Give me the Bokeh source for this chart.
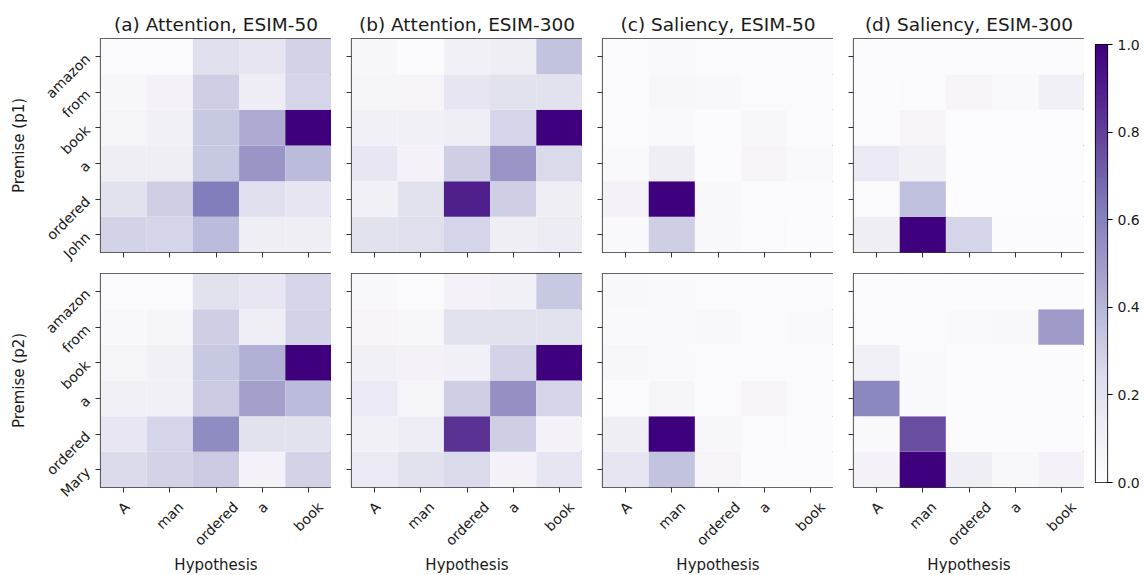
import numpy as np
from math import pi
from bokeh.plotting import figure
from bokeh.layouts import row, column
from bokeh.models import (Range1d, LinearColorMapper, ColumnDataSource, FixedTicker,
                          PrintfTickFormatter, LinearAxis, CustomLabelingPolicy)
from bokeh.transform import transform
from bokeh.palettes import Purples256
from bokeh.embed import file_html
from bokeh.resources import INLINE

# ---------------- data ----------------
hypothesis = ["A", "man", "ordered", "a", "book"]
premise_p1 = ["John", "ordered", "a", "book", "from", "amazon"]   # bottom -> top
premise_p2 = ["Mary", "ordered", "a", "book", "from", "amazon"]   # bottom -> top

titles = ["(a) Attention, ESIM-50", "(b) Attention, ESIM-300",
          "(c) Saliency, ESIM-50", "(d) Saliency, ESIM-300"]

# rows follow the premise order (bottom -> top), columns follow hypothesis
att50_p1 = [[0.28, 0.27, 0.38, 0.12, 0.12],
            [0.20, 0.30, 0.62, 0.22, 0.18],
            [0.12, 0.12, 0.33, 0.52, 0.38],
            [0.07, 0.10, 0.33, 0.44, 1.00],
            [0.05, 0.08, 0.30, 0.13, 0.27],
            [0.02, 0.02, 0.22, 0.18, 0.28]]
att300_p1 = [[0.20, 0.22, 0.27, 0.12, 0.14],
             [0.10, 0.20, 0.90, 0.30, 0.12],
             [0.17, 0.08, 0.30, 0.52, 0.25],
             [0.10, 0.10, 0.12, 0.27, 1.00],
             [0.07, 0.06, 0.18, 0.20, 0.20],
             [0.05, 0.01, 0.10, 0.12, 0.35]]
sal50_p1 = [[0.03, 0.30, 0.04, 0.02, 0.01],
            [0.08, 1.00, 0.04, 0.02, 0.02],
            [0.03, 0.12, 0.01, 0.06, 0.03],
            [0.02, 0.03, 0.01, 0.05, 0.02],
            [0.02, 0.05, 0.04, 0.02, 0.02],
            [0.02, 0.03, 0.02, 0.02, 0.02]]
sal300_p1 = [[0.12, 1.00, 0.27, 0.01, 0.01],
             [0.02, 0.36, 0.00, 0.00, 0.00],
             [0.15, 0.10, 0.00, 0.00, 0.00],
             [0.01, 0.06, 0.00, 0.00, 0.00],
             [0.01, 0.02, 0.06, 0.03, 0.10],
             [0.01, 0.01, 0.01, 0.01, 0.01]]
att50_p2 = [[0.25, 0.28, 0.32, 0.08, 0.28],
            [0.17, 0.27, 0.56, 0.20, 0.20],
            [0.10, 0.10, 0.32, 0.48, 0.38],
            [0.07, 0.10, 0.33, 0.42, 1.00],
            [0.04, 0.07, 0.30, 0.12, 0.28],
            [0.02, 0.02, 0.20, 0.17, 0.27]]
att300_p2 = [[0.15, 0.20, 0.25, 0.08, 0.18],
             [0.10, 0.13, 0.84, 0.30, 0.08],
             [0.15, 0.07, 0.30, 0.54, 0.27],
             [0.10, 0.08, 0.10, 0.28, 1.00],
             [0.06, 0.05, 0.20, 0.20, 0.20],
             [0.04, 0.01, 0.08, 0.10, 0.33]]
sal50_p2 = [[0.18, 0.35, 0.06, 0.01, 0.01],
            [0.12, 1.00, 0.05, 0.02, 0.01],
            [0.01, 0.07, 0.02, 0.06, 0.02],
            [0.05, 0.03, 0.02, 0.02, 0.02],
            [0.03, 0.03, 0.04, 0.02, 0.03],
            [0.04, 0.03, 0.02, 0.02, 0.02]]
sal300_p2 = [[0.08, 1.00, 0.12, 0.04, 0.08],
             [0.03, 0.76, 0.01, 0.01, 0.01],
             [0.58, 0.03, 0.01, 0.01, 0.01],
             [0.10, 0.03, 0.01, 0.01, 0.01],
             [0.02, 0.02, 0.03, 0.04, 0.50],
             [0.01, 0.01, 0.01, 0.01, 0.01]]

colorbar_ticks = [0.0, 0.2, 0.4, 0.6, 0.8, 1.0]

# ---------------- styling ----------------
FONT = "DejaVu Sans"
TXT = "#1a1a1a"
EDGE = "#333333"
TICK_PX = 14
palette = list(reversed(Purples256))
mapper = LinearColorMapper(palette=palette, low=0.0, high=1.0)

FW, FH = 231, 214
LEFT_B, TOP_B, GAP, BOT_B = 100, 38, 21, 88

# approximate DejaVu Sans advance widths (em) to centre rotated x labels like matplotlib
EM = {'A': 0.684, 'm': 0.974, 'a': 0.613, 'n': 0.634, 'o': 0.612, 'r': 0.411, 'd': 0.635,
      'e': 0.615, 'b': 0.635, 'k': 0.579, 'z': 0.525, 'f': 0.352, 'J': 0.295, 'h': 0.634,
      'M': 0.863, 'y': 0.592}


def text_px(s):
    return sum(EM.get(ch, 0.6) for ch in s) * TICK_PX


hide_all = CustomLabelingPolicy(code="""
for (let i = 0; i < indices.size; i++) { indices.unset(i) }
return indices
""")


def style_axis(ax):
    ax.axis_line_color = None
    ax.minor_tick_line_color = None
    ax.major_label_text_font = FONT
    ax.major_label_text_font_size = f"{TICK_PX}px"
    ax.major_label_text_color = TXT
    ax.axis_label_text_font = FONT
    ax.axis_label_text_font_size = "15px"
    ax.axis_label_text_font_style = "normal"
    ax.axis_label_text_color = TXT


def tick_only(ax, n):
    style_axis(ax)
    ax.ticker = FixedTicker(ticks=[i + 0.5 for i in range(n)])
    ax.major_tick_line_color = EDGE
    ax.major_tick_out = 5
    ax.major_tick_in = 0
    ax.major_label_text_font_size = "0px"
    ax.major_label_standoff = 0
    ax.major_label_policy = hide_all


def label_axis(ticks, labels, orient, standoff, title, title_standoff):
    ax = LinearAxis(ticker=FixedTicker(ticks=ticks),
                    major_label_overrides=dict(zip(ticks, labels)))
    style_axis(ax)
    ax.major_tick_line_color = None
    ax.major_tick_out = 0
    ax.major_tick_in = 0
    ax.major_label_orientation = orient
    ax.major_label_standoff = standoff
    ax.axis_label = title
    ax.axis_label_standoff = title_standoff
    return ax


def panel(mat, premise, title, row_i, col_i, ylabel):
    nx, ny = len(hypothesis), len(premise)
    p = figure(x_range=Range1d(0, nx), y_range=Range1d(0, ny),
               frame_width=FW, frame_height=FH, output_backend="svg", toolbar_location=None,
               min_border_left=LEFT_B if col_i == 0 else 20, min_border_right=0,
               min_border_top=TOP_B if row_i == 0 else 0,
               min_border_bottom=GAP if row_i == 0 else BOT_B,
               title=title if row_i == 0 else None)
    xs, ys, vs, hx, py = [], [], [], [], []
    for r, prem in enumerate(premise):
        for c, h in enumerate(hypothesis):
            xs.append(c + 0.5); ys.append(r + 0.5); vs.append(mat[r][c])
            hx.append(h); py.append(prem)
    src = ColumnDataSource(dict(x=xs, y=ys, v=vs, hyp=hx, prem=py))
    p.rect(x="x", y="y", width=1, height=1, source=src,
           fill_color=transform("v", mapper), line_color=None)
    p.grid.visible = False
    p.outline_line_color = EDGE
    p.outline_line_width = 1.2
    if row_i == 0:
        p.title.text_font = FONT
        p.title.text_font_size = "18.5px"
        p.title.text_font_style = "normal"
        p.title.text_color = TXT
        p.title.align = "center"
        p.title.standoff = 7
    tick_only(p.xaxis[0], nx)
    tick_only(p.yaxis[0], ny)

    # x labels (bottom row): rotated labels centred under their ticks, as in matplotlib
    if row_i == 1:
        unit = FW / nx
        xt = [round(i + 0.5 + text_px(h) * 0.3536 / unit, 4) for i, h in enumerate(hypothesis)]
        p.add_layout(label_axis(xt, hypothesis, pi / 4, 12, "Hypothesis", -1), "below")
    # y labels (first column): anchored at the word end, running down-left
    if col_i == 0:
        yt = [i + 0.5 for i in range(ny)]
        p.add_layout(label_axis(yt, premise, pi / 4, 8, ylabel, 6), "left")
    return p


top_mats = [att50_p1, att300_p1, sal50_p1, sal300_p1]
bot_mats = [att50_p2, att300_p2, sal50_p2, sal300_p2]

top = [panel(m, premise_p1, titles[i], 0, i, "Premise (p1)") for i, m in enumerate(top_mats)]
bot = [panel(m, premise_p2, None, 1, i, "Premise (p2)") for i, m in enumerate(bot_mats)]

# ---------------- colorbar ----------------
total_h = TOP_B + FH + GAP + FH + BOT_B
CB_TOP, CB_H = 44, 438
cb = figure(x_range=Range1d(0, 1), y_range=Range1d(0, 1), frame_width=12, frame_height=CB_H,
            min_border_left=11, min_border_right=38, min_border_top=CB_TOP,
            min_border_bottom=total_h - CB_TOP - CB_H,
            y_axis_location="right", output_backend="svg", toolbar_location=None)
grad = np.linspace(0, 1, 256).reshape(256, 1)
cb.image(image=[grad], x=0, y=0, dw=1, dh=1, color_mapper=mapper)
cb.grid.visible = False
cb.xaxis.visible = False
cb.outline_line_color = "black"
cb.outline_line_width = 1.2
ya = cb.yaxis[0]
ya.ticker = FixedTicker(ticks=colorbar_ticks)
ya.formatter = PrintfTickFormatter(format="%.1f")
ya.axis_line_color = None
ya.major_tick_out = 5
ya.major_tick_in = 0
ya.major_tick_line_color = "black"
ya.minor_tick_line_color = None
ya.major_label_text_font = FONT
ya.major_label_text_font_size = f"{TICK_PX}px"
ya.major_label_text_color = TXT
ya.major_label_standoff = 5

layout = row(column(row(*top), row(*bot)), cb)

open("out.html", "w").write(file_html(layout, INLINE))
